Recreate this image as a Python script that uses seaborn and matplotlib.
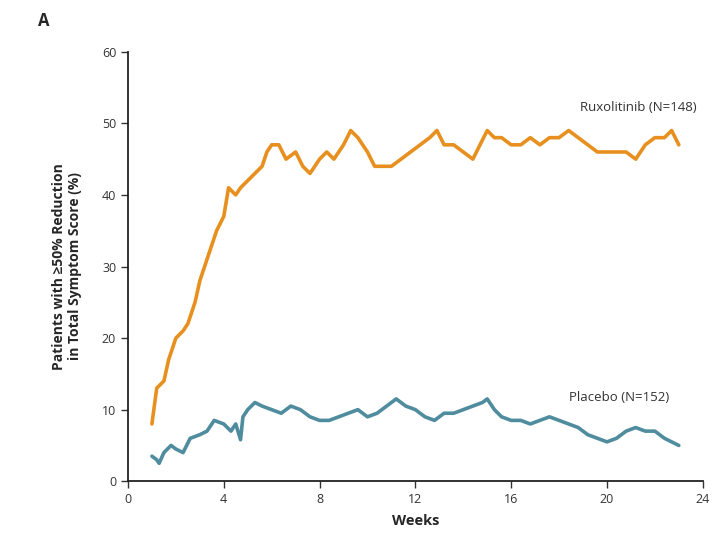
import matplotlib
matplotlib.use("Agg")
import matplotlib.pyplot as plt
import seaborn as sns
import pandas as pd

# Values (week, % patients)
rux_weeks = [1.0, 1.2, 1.5, 1.7, 2.0, 2.3, 2.5, 2.8, 3.0, 3.3, 3.5, 3.7, 4.0, 4.2, 4.5,
             4.7, 5.0, 5.3, 5.6, 5.8, 6.0, 6.3, 6.6, 7.0, 7.3, 7.6, 8.0, 8.3, 8.6, 9.0,
             9.3, 9.6, 10.0, 10.3, 10.6, 11.0, 11.4, 11.8, 12.2, 12.6, 12.9, 13.2, 13.6,
             14.0, 14.4, 14.7, 15.0, 15.3, 15.6, 16.0, 16.4, 16.8, 17.2, 17.6, 18.0, 18.4,
             18.8, 19.2, 19.6, 20.0, 20.4, 20.8, 21.2, 21.6, 22.0, 22.4, 22.7, 23.0]
rux_pct = [8, 13, 14, 17, 20, 21, 22, 25, 28, 31, 33, 35, 37, 41, 40,
           41, 42, 43, 44, 46, 47, 47, 45, 46, 44, 43, 45, 46, 45, 47,
           49, 48, 46, 44, 44, 44, 45, 46, 47, 48, 49, 47, 47,
           46, 45, 47, 49, 48, 48, 47, 47, 48, 47, 48, 48, 49,
           48, 47, 46, 46, 46, 46, 45, 47, 48, 48, 49, 47]

pbo_weeks = [1.0, 1.2, 1.3, 1.5, 1.8, 2.0, 2.3, 2.6, 3.0, 3.3, 3.6, 4.0, 4.3, 4.5, 4.7,
             4.8, 5.0, 5.3, 5.6, 6.0, 6.4, 6.8, 7.2, 7.6, 8.0, 8.4, 8.8, 9.2, 9.6, 10.0,
             10.4, 10.8, 11.2, 11.6, 12.0, 12.4, 12.8, 13.2, 13.6, 14.0, 14.4, 14.8, 15.0,
             15.3, 15.6, 16.0, 16.4, 16.8, 17.2, 17.6, 18.0, 18.4, 18.8, 19.2, 19.6, 20.0,
             20.4, 20.8, 21.2, 21.6, 22.0, 22.4, 22.7, 23.0]
pbo_pct = [3.5, 3, 2.5, 4, 5, 4.5, 4, 6, 6.5, 7, 8.5, 8, 7, 8, 5.8,
           9, 10, 11, 10.5, 10, 9.5, 10.5, 10, 9, 8.5, 8.5, 9, 9.5, 10, 9,
           9.5, 10.5, 11.5, 10.5, 10, 9, 8.5, 9.5, 9.5, 10, 10.5, 11, 11.5,
           10, 9, 8.5, 8.5, 8, 8.5, 9, 8.5, 8, 7.5, 6.5, 6, 5.5,
           6, 7, 7.5, 7, 7, 6, 5.5, 5]

rux_label = "Ruxolitinib (N=148)"
pbo_label = "Placebo (N=152)"

df = pd.concat([
    pd.DataFrame({"week": rux_weeks, "pct": rux_pct, "group": rux_label}),
    pd.DataFrame({"week": pbo_weeks, "pct": pbo_pct, "group": pbo_label}),
])

sns.set_style("ticks")
plt.rcParams["font.family"] = ["Open Sans", "DejaVu Sans"]

fig = plt.figure(figsize=(7.23, 5.45), dpi=100)
ax = fig.add_axes([0.177, 0.117, 0.795, 0.788])

palette = {rux_label: "#E8901F", pbo_label: "#4E8C9E"}
sns.lineplot(data=df, x="week", y="pct", hue="group", palette=palette,
             linewidth=2.6, legend=False, ax=ax)

ax.set_xlim(0, 24)
ax.set_ylim(0, 60)
ax.set_xticks(range(0, 25, 4))
ax.set_yticks(range(0, 61, 10))
ax.tick_params(labelsize=9, colors="#333333", length=5, width=1)
sns.despine(ax=ax)
for s in ["left", "bottom"]:
    ax.spines[s].set_linewidth(1.3)
    ax.spines[s].set_color("#222222")

ax.set_xlabel("Weeks", fontsize=10.5, fontweight="bold", labelpad=6)
ax.set_ylabel("Patients with \u226550% Reduction\nin Total Symptom Score (%)",
              fontsize=10, fontweight="bold", labelpad=14)

ax.text(23.75, 52.2, rux_label, ha="right", va="center", fontsize=9.5, color="#333333")
ax.text(22.6, 11.7, pbo_label, ha="right", va="center", fontsize=9.5, color="#333333")

fig.text(0.052, 0.962, "A", fontsize=12, fontweight="bold", ha="left", va="center")

fig.savefig("out.png", dpi=100)
